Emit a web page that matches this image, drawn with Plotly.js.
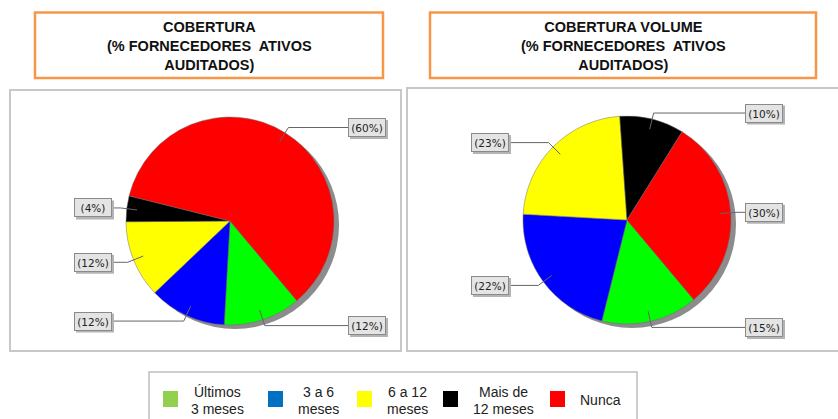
<!DOCTYPE html>
<html><head><meta charset="utf-8">
<script src="https://cdn.plot.ly/plotly-3.0.1.min.js"></script>
<style>html,body{margin:0;padding:0;background:#fff;} #chart{width:838px;height:419px;}</style>
</head><body><div id="chart"></div>
<script>
// ---- data ----
const categories = ['Últimos 3 meses', '3 a 6 meses', '6 a 12 meses', 'Mais de 12 meses', 'Nunca'];
const legendLabels = [['Últimos', '3 meses'], ['3 a 6', 'meses'], ['6 a 12', 'meses'], ['Mais de', '12 meses'], ['Nunca']];
const coberturaValues = [12, 12, 12, 4, 60];
const coberturaVolumeValues = [15, 22, 23, 10, 30];
const sliceColors = ['#00FF00', '#0000FF', '#FFFF00', '#000000', '#FF0000'];
const legendColors = ['#92D050', '#0070C0', '#FFFF00', '#000000', '#FF0000'];
const titleLeft = 'COBERTURA<br>(% FORNECEDORES  ATIVOS<br>AUDITADOS)';
const titleRight = 'COBERTURA VOLUME<br>(% FORNECEDORES  ATIVOS<br>AUDITADOS)';

// ---- layout geometry (pixels) ----
const W = 838, H = 419;
const X = x => x / W, Y = y => 1 - y / H;
const ROT = 140;
const pies = [
  {values: coberturaValues, cx: 230, cy: 221, r: 104},
  {values: coberturaVolumeValues, cx: 627, cy: 220, r: 104}
];

const shapes = [];
const annotations = [];

// panels
shapes.push({type:'rect', xref:'paper', yref:'paper', x0:X(10), x1:X(401), y0:Y(90), y1:Y(351), line:{color:'#c8c8c8', width:2}, layer:'below'});
shapes.push({type:'rect', xref:'paper', yref:'paper', x0:X(407), x1:X(850), y0:Y(88), y1:Y(351), line:{color:'#c8c8c8', width:2}, layer:'below'});

// title boxes
[[35, 383, titleLeft], [430, 816, titleRight]].forEach(([a, b, t]) => {
  shapes.push({type:'rect', xref:'paper', yref:'paper', x0:X(a), x1:X(b), y0:Y(12.5), y1:Y(78), line:{color:'#F79646', width:2.5}});
  annotations.push({xref:'paper', yref:'paper', x:X((a+b)/2), y:Y(46), text:t, showarrow:false, xanchor:'center', yanchor:'middle', align:'center',
    font:{family:'Liberation Sans, Arial, sans-serif', size:14.5, color:'#111', weight:'bold'}});
});

const traces = [];
pies.forEach(p => {
  // shadow
  shapes.push({type:'circle', xref:'paper', yref:'paper', x0:X(p.cx-p.r+5), x1:X(p.cx+p.r+5), y0:Y(p.cy+p.r+4), y1:Y(p.cy-p.r+4),
    fillcolor:'#8c8c8c', line:{width:0}, layer:'below'});
  traces.push({type:'pie', values:p.values, labels:categories, sort:false, direction:'clockwise', rotation:ROT,
    marker:{colors:sliceColors, line:{color:'rgba(110,110,110,0.7)', width:0.7}},
    textinfo:'none', hoverinfo:'none',
    domain:{x:[X(p.cx-p.r), X(p.cx+p.r)], y:[Y(p.cy+p.r), Y(p.cy-p.r)]}});
  const total = p.values.reduce((s, v) => s + v, 0);
  let cum = 0;
  p.values.forEach(v => {
    const mid = (ROT + 360 * (cum + v / 2) / total) * Math.PI / 180;
    cum += v;
    const s = Math.sin(mid), c = Math.cos(mid);
    const x0 = p.cx + 0.9 * p.r * s, y0 = p.cy - 0.9 * p.r * c;
    const xe = p.cx + 1.06 * p.r * s, ye = p.cy - 1.06 * p.r * c;
    const right = s >= 0;
    const edge = right ? p.cx + 118 : p.cx - 118;
    shapes.push({type:'path', xref:'paper', yref:'paper', layer:'above',
      path:`M ${X(x0)} ${Y(y0)} L ${X(xe)} ${Y(ye)} L ${X(edge)} ${Y(ye)}`, line:{color:'#666', width:1}});
    const bw = 38, bh = 19;
    const bx0 = right ? edge : edge - bw;
    shapes.push({type:'rect', xref:'paper', yref:'paper', layer:'above', x0:X(bx0+2), x1:X(bx0+bw+2), y0:Y(ye+bh/2+2), y1:Y(ye-bh/2+2),
      fillcolor:'#b4b4b4', line:{width:0}});
    annotations.push({xref:'paper', yref:'paper', x:X(edge), y:Y(ye), xanchor: right ? 'left' : 'right', yanchor:'middle',
      text:'(' + v + '%)', showarrow:false, width:34, height:15, borderpad:1, borderwidth:1, bordercolor:'#8a8a8a', bgcolor:'#e4e4e4',
      font:{family:'DejaVu Sans, sans-serif', size:10.5, color:'#222'}});
  });
});

// legend
shapes.push({type:'rect', xref:'paper', yref:'paper', x0:X(149), x1:X(637), y0:Y(430), y1:Y(372), line:{color:'#bfbfbf', width:1.5}});
const legSquareX = [163, 268, 357, 443, 550];
const legTextX = [217, 318, 407, 503, 600];
legendLabels.forEach((lines, i) => {
  shapes.push({type:'rect', xref:'paper', yref:'paper', x0:X(legSquareX[i]), x1:X(legSquareX[i]+15), y0:Y(407), y1:Y(391),
    fillcolor:legendColors[i], line:{width:0}});
  const ys = lines.length === 2 ? [392, 408.5] : [399.5];
  lines.forEach((ln, j) => {
    annotations.push({xref:'paper', yref:'paper', x:X(legTextX[i]), y:Y(ys[j]), text:ln, showarrow:false, xanchor:'center', yanchor:'middle', align:'center',
      font:{family:'Liberation Sans, Arial, sans-serif', size:14, color:'#222'}});
  });
});

Plotly.newPlot('chart', traces, {
  width:W, height:H, margin:{l:0, r:0, t:0, b:0}, showlegend:false,
  paper_bgcolor:'#fff', plot_bgcolor:'#fff', shapes:shapes, annotations:annotations
}, {staticPlot:true});
</script></body></html>
